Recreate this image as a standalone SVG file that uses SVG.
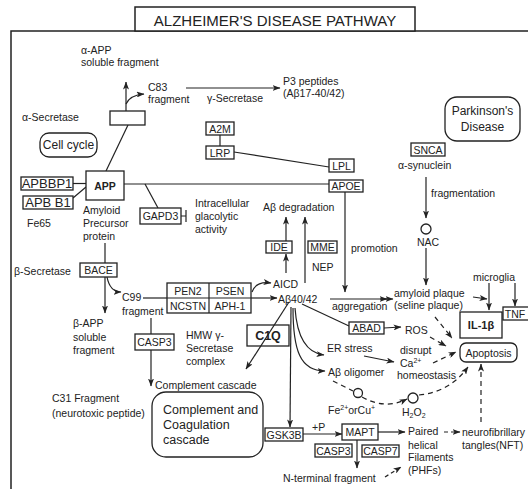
<svg xmlns="http://www.w3.org/2000/svg" width="528" height="489" viewBox="0 0 528 489">
<defs>
<marker id="ah" viewBox="0 0 8 6" refX="7.5" refY="3" markerWidth="8" markerHeight="6" markerUnits="userSpaceOnUse" orient="auto">
<path d="M0,0 L8,3 L0,6 L2,3 z" fill="#222"/>
</marker>
</defs>
<style>
text{font-family:"Liberation Sans",Arial,sans-serif;font-size:10.5px;fill:#222;dominant-baseline:central}
.box{fill:#fff;stroke:#222;stroke-width:1.3}
.ln{fill:none;stroke:#222;stroke-width:1.2}
.ar{fill:none;stroke:#222;stroke-width:1.2;marker-end:url(#ah)}
.da{fill:none;stroke:#222;stroke-width:1.2;stroke-dasharray:5,4;marker-end:url(#ah)}
.dl{fill:none;stroke:#222;stroke-width:1.2;stroke-dasharray:5,4}
.c{text-anchor:middle}
.b{font-weight:bold}
</style>
<rect x="11" y="31" width="540" height="480" fill="none" stroke="#222" stroke-width="1.5"/>
<g id="title"><rect x="135" y="7" width="280" height="24" fill="#fff" stroke="#222" stroke-width="1.5"/><text x="275" y="20" class="c" style="font-size:15px">ALZHEIMER'S DISEASE PATHWAY</text></g>

<g id="connectors">
<path class="ar" d="M126,111 L126,82"/>
<path class="ar" d="M126,104 Q130,95 144,94"/>
<path class="ar" d="M186,88 L280,88"/>
<path class="ln" d="M106,171 L128,125"/>
<path class="ln" d="M73,183.5 L86,183.5"/>
<path class="ln" d="M73,198 L86,187"/>
<path class="ln" d="M124,184 L329,184"/>
<path class="ln" d="M145,184 L158,208"/>
<path class="ln" d="M181,216 L186,216 M186,210 L186,222"/>
<path class="ln" d="M220,135 L220,146"/>
<path class="ln" d="M234,152 L329,167"/>
<path class="ar" d="M345,192 L345,292"/>
<path class="ln" d="M105,243 L105,263"/>
<path class="ar" d="M105,277 L105,313"/>
<path class="ar" d="M107,277 Q110,292 121,292"/>
<path class="ln" d="M143,298 L167,298"/>
<path class="ln" d="M151,318 L151,334"/>
<path class="ar" d="M151,350 L151,386"/>
<path class="ar" d="M252,292 Q256,281 271,283"/>
<path class="ar" d="M251,298 L277,298"/>
<path class="ar" d="M286,273 L286,254"/>
<path class="ar" d="M286,241 L286,217"/>
<path class="ar" d="M305,283 L305,217"/>
<path class="ar" d="M291,307 L290,427"/>
<path class="ar" d="M295,308 Q298,352 324,355"/>
<path class="ar" d="M293,308 C293,350 300,371 325,371"/>
<path class="ln" d="M302,304 L349,326"/>
<path class="ar" d="M330,299 L393,299"/>
<path class="ar" d="M380,299 L387,299"/>
<path class="ar" d="M384,328 L401,327"/>
<path class="ar" d="M364,356 L394,362"/>
<path class="ar" d="M426,177 L426,218"/>
<path class="ar" d="M426,248 L426,285"/>
<path class="ar" d="M473,297 L487,299"/>
<path class="ar" d="M489,283 L489,310"/>
<path class="ar" d="M515,283 L515,306"/>
<path class="da" d="M435,317 L452,338"/>
<path class="da" d="M430,337 L446,346"/>
<path class="da" d="M433,363 L456,352"/>
<path class="dl" d="M333,381 L353,391"/>
<path class="da" d="M362,397 Q385,410 407,399"/>
<path class="da" d="M419,395 Q450,392 468,367"/>
<path class="da" d="M481,422 L481,364"/>
<path class="ar" d="M303,434 L342,434"/>
<path class="ar" d="M378,432 L405,432"/>
<path class="ar" d="M357,440 L357,468"/>
<path class="da" d="M444,432 L460,432" style="stroke-dasharray:4,3"/>
<path class="da" d="M385,477 L401,467" style="stroke-dasharray:4,3"/>
</g>

<g id="alphabox"><rect class="box" x="110" y="111" width="35" height="14"/></g>
<g id="APP"><rect class="box" x="86" y="171" width="38" height="29"/><text x="105" y="185.5" class="c b">APP</text></g>
<g id="APBBP1"><rect class="box" x="21" y="177" width="52" height="13"/><text x="47" y="183.5" class="c" style="font-size:13px">APBBP1</text></g>
<g id="APBB1"><rect class="box" x="23" y="196" width="50" height="13"/><text x="48" y="202.5" class="c" style="font-size:13px">APB B1</text></g>
<g id="cellcycle"><rect class="box" x="40" y="133" width="57" height="24" rx="9"/><text x="68.5" y="145" class="c" style="font-size:12px">Cell cycle</text></g>
<g id="GAPD3"><rect class="box" x="140" y="208" width="41" height="16"/><text x="160.5" y="216" class="c">GAPD3</text></g>
<g id="A2M"><rect class="box" x="206" y="122" width="28" height="13"/><text x="220" y="128.5" class="c">A2M</text></g>
<g id="LRP"><rect class="box" x="206" y="146" width="28" height="13"/><text x="220" y="152.5" class="c">LRP</text></g>
<g id="LPL"><rect class="box" x="329" y="159" width="25" height="13"/><text x="341.5" y="165.5" class="c">LPL</text></g>
<g id="APOE"><rect class="box" x="329" y="180" width="34" height="12"/><text x="346" y="186" class="c">APOE</text></g>
<g id="IDE"><rect class="box" x="266" y="241" width="26" height="12"/><text x="279" y="247" class="c">IDE</text></g>
<g id="MME"><rect class="box" x="308" y="241" width="29" height="12"/><text x="322.5" y="247" class="c">MME</text></g>
<g id="gsecretase"><rect class="box" x="167" y="283" width="84" height="30"/><path class="ln" d="M209,283 L209,313 M167,298 L251,298"/>
<text x="188" y="290.5" class="c">PEN2</text><text x="230" y="290.5" class="c">PSEN</text><text x="188" y="305.5" class="c">NCSTN</text><text x="230" y="305.5" class="c">APH-1</text></g>
<g id="BACE"><rect class="box" x="80" y="263" width="37" height="14"/><text x="98.5" y="270" class="c">BACE</text></g>
<g id="CASP3a"><rect class="box" x="135" y="334" width="39" height="16"/><text x="154.5" y="342" class="c">CASP3</text></g>
<g id="C1Q"><rect class="box" x="247" y="325" width="42" height="21" style="fill:none"/><text x="268" y="335.5" class="c b" style="font-size:12.5px">C1Q</text></g>
<path class="ar" d="M289,302 L246,369"/>
<g id="complement"><rect class="box" x="152" y="392" width="111" height="65" rx="14"/>
<text x="163" y="410" style="font-size:12.5px">Complement and</text><text x="163" y="425" style="font-size:12.5px">Coagulation</text><text x="163" y="440" style="font-size:12.5px">cascade</text></g>
<g id="GSK3B"><rect class="box" x="265" y="428" width="38" height="13"/><text x="284" y="434.5" class="c">GSK3B</text></g>
<g id="MAPT"><rect class="box" x="342" y="424" width="36" height="16"/><text x="360" y="432" class="c">MAPT</text></g>
<g id="CASP3b"><rect class="box" x="315" y="444" width="37" height="13"/><text x="333.5" y="450.5" class="c">CASP3</text></g>
<g id="CASP7"><rect class="box" x="362" y="445" width="37" height="12"/><text x="380.5" y="451" class="c">CASP7</text></g>
<g id="SNCA"><rect class="box" x="411" y="143" width="34" height="13"/><text x="428" y="149.5" class="c">SNCA</text></g>
<g id="parkinson"><rect class="box" x="445" y="97" width="75" height="44" rx="12"/><text x="482.5" y="111" class="c" style="font-size:12px">Parkinson's</text><text x="482.5" y="127" class="c" style="font-size:12px">Disease</text></g>
<g id="ABAD"><rect class="box" x="349" y="322" width="35" height="12"/><text x="366.5" y="328" class="c">ABAD</text></g>
<g id="IL1b"><rect class="box" x="460" y="312" width="42" height="26"/><text x="481" y="325" class="c b" style="font-size:11px">IL-1β</text></g>
<g id="TNF"><rect class="box" x="503" y="307" width="26" height="13"/><text x="515" y="313.5" class="c">TNF</text></g>
<g id="apoptosis"><rect class="box" x="460" y="343" width="57" height="19" rx="6"/><text x="488.5" y="352.5" class="c">Apoptosis</text></g>
<g id="NAC"><circle cx="426" cy="229" r="5" class="box"/><text x="417" y="242">NAC</text></g>
<g id="Fe"><circle cx="358" cy="393" r="4.5" class="box"/><text x="328" y="410">Fe<tspan font-size="7" dy="-3">2+</tspan><tspan dy="3">or</tspan>Cu<tspan font-size="7" dy="-3">+</tspan></text></g>
<g id="H2O2"><circle cx="413" cy="398" r="5" class="box"/><text x="402" y="412">H<tspan font-size="7" dy="3">2</tspan><tspan dy="-3">O</tspan><tspan font-size="7" dy="3">2</tspan></text></g>

<g id="labels">
<text x="81" y="50">α-APP</text><text x="81" y="62">soluble fragment</text>
<text x="148" y="87">C83</text><text x="148" y="99">fragment</text>
<text x="207" y="98">γ-Secretase</text>
<text x="283" y="81">P3 peptides</text><text x="283" y="93">(Aβ17-40/42)</text>
<text x="22" y="117">α-Secretase</text>
<text x="27" y="223">Fe65</text>
<text x="83" y="210">Amyloid</text><text x="83" y="223">Precursor</text><text x="83" y="236">protein</text>
<text x="195" y="203">Intracellular</text><text x="195" y="216">glacolytic</text><text x="195" y="229">activity</text>
<text x="263" y="207">Aβ degradation</text>
<text x="312" y="267">NEP</text>
<text x="351" y="248">promotion</text>
<text x="273" y="284">AICD</text>
<text x="278" y="299">Aβ40/42</text>
<text x="14" y="271">β-Secretase</text>
<text x="122" y="297">C99</text><text x="122" y="311">fragment</text>
<text x="73" y="323">β-APP</text><text x="73" y="337">soluble</text><text x="73" y="350">fragment</text>
<text x="186" y="335">HMW γ-</text><text x="186" y="348">Secretase</text><text x="186" y="361">complex</text>
<text x="155" y="385">Complement cascade</text>
<text x="52" y="398">C31 Fragment</text><text x="52" y="413">(neurotoxic peptide)</text>
<text x="312" y="427">+P</text>
<text x="283" y="478">N-terminal fragment</text>
<text x="408" y="431">Paired</text><text x="408" y="445">helical</text><text x="408" y="457">Filaments</text><text x="408" y="470">(PHFs)</text>
<text x="462" y="432">neurofibrillary</text><text x="462" y="445">tangles(NFT)</text>
<text x="327" y="348">ER stress</text>
<text x="400" y="350">disrupt</text><text x="400" y="363">Ca<tspan font-size="7" dy="-3">2+</tspan></text><text x="397" y="375">homeostasis</text>
<text x="328" y="372">Aβ oligomer</text>
<text x="332" y="306">aggregation</text>
<text x="394" y="293">amyloid plaque</text><text x="394" y="305">(seline plaque)</text>
<text x="473" y="277">microglia</text>
<text x="405" y="330">ROS</text>
<text x="398" y="165">α-synuclein</text>
<text x="431" y="193">fragmentation</text>
</g>
</svg>
